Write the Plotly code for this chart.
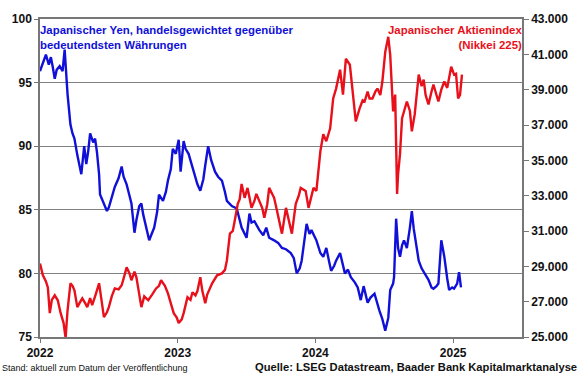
import plotly.graph_objects as go

# Yen trade-weighted index (left axis), time as fractional year
yen_t = [2022.000, 2022.021, 2022.043, 2022.064, 2022.079, 2022.093, 2022.107, 2022.121, 2022.143,
         2022.164, 2022.179, 2022.200, 2022.221, 2022.236, 2022.250, 2022.271, 2022.286, 2022.300,
         2022.321, 2022.336, 2022.350, 2022.364, 2022.386, 2022.400, 2022.414, 2022.429, 2022.436,
         2022.457, 2022.486, 2022.500, 2022.521, 2022.543, 2022.571, 2022.593, 2022.607, 2022.629,
         2022.643, 2022.664, 2022.686, 2022.700, 2022.721, 2022.736, 2022.750, 2022.764, 2022.793,
         2022.807, 2022.829, 2022.850, 2022.864, 2022.893, 2022.914, 2022.929, 2022.950, 2022.964,
         2022.986, 2023.007, 2023.021, 2023.043, 2023.057, 2023.079, 2023.100, 2023.121, 2023.143,
         2023.164, 2023.186, 2023.200, 2023.221, 2023.243, 2023.271, 2023.293, 2023.321, 2023.343,
         2023.357, 2023.393, 2023.429, 2023.450, 2023.464, 2023.500, 2023.521, 2023.536, 2023.557,
         2023.593, 2023.621, 2023.643, 2023.664, 2023.700, 2023.729, 2023.757, 2023.786, 2023.821,
         2023.843, 2023.864, 2023.886, 2023.900, 2023.921, 2023.936, 2023.957, 2023.971, 2024.007,
         2024.036, 2024.057, 2024.079, 2024.100, 2024.114, 2024.136, 2024.150, 2024.179, 2024.200,
         2024.214, 2024.236, 2024.257, 2024.286, 2024.307, 2024.329, 2024.350, 2024.379, 2024.400,
         2024.429, 2024.443, 2024.464, 2024.486, 2024.507, 2024.529, 2024.543, 2024.564, 2024.571,
         2024.586, 2024.600, 2024.614, 2024.629, 2024.643, 2024.664, 2024.686, 2024.700, 2024.714,
         2024.736, 2024.750, 2024.771, 2024.793, 2024.821, 2024.843, 2024.857, 2024.879, 2024.893,
         2024.914, 2024.936, 2024.957, 2024.971, 2024.993, 2025.007, 2025.029, 2025.043, 2025.057]
yen_v = [95.9, 96.6, 97.2, 96.4, 97.0, 96.2, 95.3, 96.0, 96.3,
         95.9, 97.6, 94.1, 91.7, 91.0, 90.6, 89.3, 88.6, 87.8,
         90.0, 88.6, 89.6, 91.0, 90.3, 90.6, 89.5, 87.8, 86.2,
         85.6, 84.9, 85.2, 85.9, 86.8, 87.5, 88.4, 87.6, 87.0,
         86.4, 85.5, 83.2, 84.2, 85.3, 85.5, 84.6, 84.0, 82.6,
         83.0, 83.6, 84.8, 86.2, 85.7, 86.4, 87.3, 88.2, 89.8,
         89.4, 90.5, 88.0, 90.4, 89.8, 89.4, 88.6, 88.0, 87.0,
         86.5, 87.4, 88.5, 90.0, 88.9, 88.0, 87.6, 87.3, 86.4,
         85.7, 85.3, 85.1, 84.2, 83.6, 82.8, 84.7, 84.0, 84.1,
         83.4, 83.0, 83.6, 82.8, 82.6, 82.4, 82.0, 81.9, 81.6,
         81.2, 80.0, 80.4, 81.0, 82.6, 83.9, 83.1, 83.4, 82.6,
         81.6, 81.3, 82.0, 80.9, 80.2, 80.6, 81.0, 81.6, 80.6,
         80.0, 80.3, 79.7, 79.3, 78.9, 77.9, 79.0, 77.7, 78.1,
         78.4, 77.8, 77.1, 76.4, 75.5, 76.5, 78.7, 79.2, 79.7,
         84.3, 82.0, 81.3, 82.2, 82.6, 82.0, 83.6, 84.9, 83.5,
         82.0, 81.0, 80.4, 80.0, 79.5, 78.9, 78.8, 79.0, 79.2,
         82.6, 81.3, 79.6, 78.7, 78.9, 78.8, 79.2, 80.1, 78.9]

# Nikkei 225 (right axis)
nik_t = [2022.000, 2022.021, 2022.043, 2022.057, 2022.071, 2022.086, 2022.107, 2022.129, 2022.150,
         2022.171, 2022.186, 2022.200, 2022.221, 2022.236, 2022.250, 2022.271, 2022.293, 2022.307,
         2022.329, 2022.343, 2022.364, 2022.379, 2022.400, 2022.429, 2022.450, 2022.464, 2022.486,
         2022.500, 2022.521, 2022.543, 2022.571, 2022.593, 2022.614, 2022.629, 2022.650, 2022.664,
         2022.686, 2022.700, 2022.721, 2022.736, 2022.757, 2022.786, 2022.814, 2022.843, 2022.864,
         2022.879, 2022.907, 2022.929, 2022.950, 2022.971, 2022.993, 2023.007, 2023.029, 2023.043,
         2023.071, 2023.093, 2023.107, 2023.129, 2023.143, 2023.164, 2023.179, 2023.200, 2023.214,
         2023.236, 2023.250, 2023.286, 2023.321, 2023.343, 2023.357, 2023.379, 2023.400, 2023.414,
         2023.436, 2023.450, 2023.464, 2023.486, 2023.507, 2023.536, 2023.557, 2023.571, 2023.593,
         2023.614, 2023.629, 2023.650, 2023.664, 2023.700, 2023.721, 2023.757, 2023.786, 2023.807,
         2023.829, 2023.857, 2023.879, 2023.893, 2023.929, 2023.950, 2023.971, 2023.986, 2024.007,
         2024.021, 2024.036, 2024.057, 2024.079, 2024.107, 2024.129, 2024.150, 2024.179, 2024.200,
         2024.221, 2024.250, 2024.271, 2024.293, 2024.321, 2024.343, 2024.357, 2024.379, 2024.393,
         2024.414, 2024.436, 2024.450, 2024.471, 2024.486, 2024.507, 2024.529, 2024.543, 2024.564,
         2024.579, 2024.593, 2024.600, 2024.614, 2024.629, 2024.650, 2024.664, 2024.686, 2024.700,
         2024.721, 2024.736, 2024.750, 2024.771, 2024.786, 2024.800, 2024.821, 2024.843, 2024.857,
         2024.879, 2024.893, 2024.914, 2024.936, 2024.957, 2024.986, 2025.007, 2025.021, 2025.036,
         2025.050, 2025.064]
nik_v = [29160, 28490, 28150, 27810, 26350, 27100, 27360, 27080, 26350,
         25800, 24950, 26500, 28040, 27900, 27640, 26690, 27000, 27190,
         26900, 26690, 27200, 26800, 27300, 28040, 26900, 26125, 26400,
         26690, 27300, 27750, 27700, 27930, 28500, 28940, 28600, 28210,
         28700, 28380, 27400, 26690, 27300, 27080, 27400, 27750, 27900,
         28210, 27900, 27470, 26900, 26350, 26100, 25790, 26000, 26350,
         27250, 27100, 27530, 27360, 27600, 28380, 27600, 26910, 27400,
         27800, 28040, 28490, 28600, 28800, 29330, 30850, 31000, 31580,
         32540, 32800, 33660, 32880, 33440, 32310, 32700, 33100, 32710,
         32300, 31750, 32500, 33440, 32880, 32140, 30850, 32310, 31580,
         30850, 32540, 33000, 33440, 33270, 32310, 33000, 33440, 33270,
         34200, 35520, 36480, 36080, 36810, 38500, 39060, 40130, 38720,
         40750, 40410, 38890, 37210, 37940, 38400, 38330, 38890, 38500,
         38500, 38900, 39060, 38700, 39460, 41140, 41990, 40970, 37770,
         38720, 33100, 34200, 35350, 37380, 37900, 38330, 37800, 36640,
         37600, 38800, 39850, 39200, 39570, 38700, 38160, 38900, 39290,
         38700, 38330, 39000, 39460, 39100, 40300, 39850, 39900, 38500,
         38700, 39850]

year_ticks = [2022, 2023, 2024, 2025]
year_labels = ["2022", "2023", "2024", "2025"]
left_ticks = [75, 80, 85, 90, 95, 100]
right_ticks = list(range(25000, 43001, 2000))

BLUE = "#1010d8"
RED = "#e8101a"
FONT = "Liberation Sans, Arial, sans-serif"

fig = go.Figure()
fig.add_trace(go.Scatter(x=nik_t, y=nik_v, mode="lines", yaxis="y2",
                         line=dict(color=RED, width=2.4), showlegend=False))
fig.add_trace(go.Scatter(x=yen_t, y=yen_v, mode="lines", yaxis="y",
                         line=dict(color=BLUE, width=2.4), showlegend=False))

tick_font = dict(family=FONT, size=12, color="#111111", weight="bold")

fig.update_layout(
    width=580, height=375,
    margin=dict(l=37, r=54, t=17, b=38),
    paper_bgcolor="white", plot_bgcolor="white",
    separators=",.",
    showlegend=False,
    xaxis=dict(range=[2022, 2025.5], tickvals=year_ticks, ticktext=year_labels,
               showgrid=False, zeroline=False, showline=True, linecolor="#777777",
               linewidth=1.5, mirror=True, ticks="outside", ticklen=4, tickcolor="#777777",
               tickfont=tick_font),
    yaxis=dict(range=[75, 100], tickvals=left_ticks, showgrid=True, gridcolor="#808080",
               gridwidth=1, zeroline=False, showline=True, linecolor="#777777", linewidth=1.5,
               ticks="outside", ticklen=4, tickcolor="#777777", tickfont=tick_font),
    yaxis2=dict(range=[25000, 43000], tickvals=right_ticks, tickformat=",d", overlaying="y",
                side="right", showgrid=False, zeroline=False, showline=True,
                linecolor="#777777", linewidth=1.5, ticks="outside", ticklen=5,
                tickcolor="#777777", tickfont=tick_font),
)

fig.add_annotation(xref="paper", yref="paper", x=-0.004, y=0.99, xanchor="left", yanchor="top",
                   text="Japanischer Yen, handelsgewichtet gegenüber<br>bedeutendsten Währungen",
                   showarrow=False, align="left",
                   font=dict(family=FONT, size=11.4, color=BLUE, weight="bold"))
fig.add_annotation(xref="paper", yref="paper", x=1.004, y=0.99, xanchor="right", yanchor="top",
                   text="Japanischer Aktienindex<br>(Nikkei 225)",
                   showarrow=False, align="right",
                   font=dict(family=FONT, size=11.4, color=RED, weight="bold"))
fig.add_annotation(xref="paper", yref="paper", x=-0.082, y=-0.097, xanchor="left", yanchor="middle",
                   text="Stand: aktuell zum Datum der Veröffentlichung", showarrow=False,
                   font=dict(family=FONT, size=9, color="#111111"))
fig.add_annotation(xref="paper", yref="paper", x=1.118, y=-0.094, xanchor="right", yanchor="middle",
                   text="Quelle: LSEG Datastream, Baader Bank Kapitalmarktanalyse", showarrow=False,
                   font=dict(family=FONT, size=11.2, color="#111111", weight="bold"))

fig.write_html("out.html", config={"displayModeBar": False},
               post_script="document.body.style.margin='0';")
